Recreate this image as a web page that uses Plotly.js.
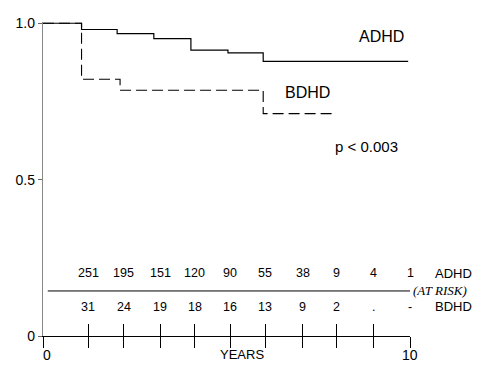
<!DOCTYPE html>
<html>
<head>
<meta charset="utf-8">
<script src="https://cdn.plot.ly/plotly-3.0.1.min.js"></script>
<style>html,body{margin:0;padding:0;background:#fff;}#chart{width:478px;height:365px;}</style>
</head>
<body>
<div id="chart"></div>
<script>
// Kaplan-Meier style survival curves
const adhdYears = [0, 1.05, 2.02, 3.02, 4.03, 5.04, 6.0, 9.95];
const adhdSurv  = [1.0, 0.980, 0.967, 0.951, 0.914, 0.905, 0.878, 0.878];
const bdhdYears = [0, 1.05, 2.1, 6.0, 7.9];
const bdhdSurv  = [1.0, 0.821, 0.786, 0.711, 0.711];

// Numbers at risk
const riskYears = [1.23, 2.2, 3.2, 4.14, 5.1, 6.05, 7.08, 8.0, 9.0, 10.0];
const adhdRisk = ['251', '195', '151', '120', '90', '55', '38', '9', '4', '1'];
const bdhdRisk = ['31', '24', '19', '18', '16', '13', '9', '2', '.', '-'];

const yTickVals = [0, 0.5, 1.0];
const yTickText = ['0', '0.5', '1.0'];
const xLabelVals = [0, 10];
const xLabelText = ['0', '10'];

const FONT = 'Liberation Sans, Arial, Helvetica, sans-serif';
const XMAX = 10, YMAX = 1.004;

const traces = [
  {x: adhdYears, y: adhdSurv, type: 'scatter', mode: 'lines', line: {shape: 'hv', color: '#000', width: 1.2}, name: 'ADHD', showlegend: false, hoverinfo: 'skip'},
  {x: bdhdYears, y: bdhdSurv, type: 'scatter', mode: 'lines', line: {shape: 'hv', color: '#000', width: 1.1, dash: '11px,5px'}, name: 'BDHD', showlegend: false, hoverinfo: 'skip'}
];

const adhdRowY = 0.201, bdhdRowY = 0.093, ruleY = 0.144;
const annotations = [];
const txt = (x, y, text, size, extra) => Object.assign({x: x / XMAX, y: y / YMAX, xref: 'paper', yref: 'paper', xanchor: 'center', yanchor: 'middle', text: text, showarrow: false, font: {family: FONT, size: size, color: '#000'}}, extra || {});
riskYears.forEach((yr, i) => {
  annotations.push(txt(yr, adhdRowY, adhdRisk[i], 12.5));
  annotations.push(txt(yr, bdhdRowY, bdhdRisk[i], 12.5));
});
annotations.push(txt(11.74, adhdRowY, 'ADHD', 13, {xanchor: 'right'}));
annotations.push(txt(11.74, bdhdRowY, 'BDHD', 13, {xanchor: 'right'}));
annotations.push(txt(10.02, ruleY, '<i>(AT RISK)</i>', 13, {xanchor: 'left', font: {family: 'Liberation Serif, Times New Roman, serif', size: 13, color: '#000'}}));
annotations.push(txt(9.21, 0.958, 'ADHD', 16));
annotations.push(txt(7.2, 0.78, 'BDHD', 16));
annotations.push(txt(8.81, 0.607, 'p < 0.003', 15));
annotations.push(txt(5.42, -0.058, 'YEARS', 13));
xLabelVals.forEach((v, i) => annotations.push(txt(v + (v === 0 ? 0.1 : 0), -0.06, xLabelText[i], 14)));

const layout = {
  width: 478, height: 365,
  margin: {l: 43, r: 68, t: 22, b: 29},
  paper_bgcolor: '#fff', plot_bgcolor: '#fff',
  showlegend: false,
  font: {family: FONT, color: '#000'},
  xaxis: {
    range: [0, XMAX], showgrid: false, zeroline: false,
    showline: true, linecolor: '#000', linewidth: 1.2,
    tickmode: 'array',
    tickvals: [0].concat(riskYears),
    showticklabels: false,
    ticks: 'outside', ticklen: 11, tickwidth: 1, tickcolor: '#000'
  },
  xaxis2: {
    range: [0, XMAX], overlaying: 'x', anchor: 'y', side: 'bottom',
    showgrid: false, zeroline: false, showline: false,
    tickmode: 'array', tickvals: riskYears, showticklabels: false,
    ticks: 'inside', ticklen: 12, tickwidth: 1, tickcolor: '#000'
  },
  yaxis: {
    range: [0, YMAX], showgrid: false, zeroline: false,
    showline: true, linecolor: '#888', linewidth: 1.2,
    tickmode: 'array', tickvals: yTickVals, ticktext: yTickText,
    ticks: 'outside', ticklen: 4, tickwidth: 1, tickcolor: '#666',
    tickfont: {family: FONT, size: 14, color: '#000'}
  },
  shapes: [
    {type: 'line', xref: 'x', yref: 'y', x0: 0.13, x1: 10, y0: ruleY, y1: ruleY, line: {color: '#000', width: 1}}
  ],
  annotations: annotations
};

// invisible trace to activate xaxis2
traces.push({x: [0], y: [0], xaxis: 'x2', yaxis: 'y', type: 'scatter', mode: 'markers', marker: {opacity: 0}, hoverinfo: 'skip', showlegend: false});

Plotly.newPlot('chart', traces, layout, {displayModeBar: false, staticPlot: true});
</script>
</body>
</html>
